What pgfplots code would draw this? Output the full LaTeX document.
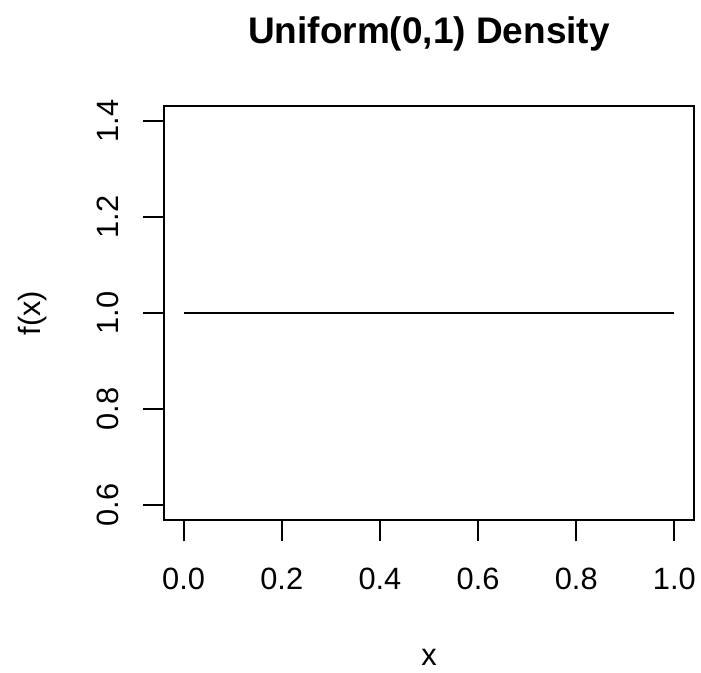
\documentclass[border=0pt]{standalone}
\usepackage{pgfplots}
\pgfplotsset{compat=1.18}
\usepackage{fontspec}
\setmainfont{Liberation Sans}
\begin{document}
\begin{tikzpicture}
  % page frame, 0.5pt per pixel of the 701x673 reference
  \useasboundingbox (0,0) rectangle (350.5pt,336.5pt);
  \begin{axis}[
      at={(82pt,76.35pt)}, anchor=south west,
      scale only axis,
      width=265pt, height=207.3pt,
      xmin=-0.04, xmax=1.04,
      ymin=0.568, ymax=1.432,
      xtick={0,0.2,0.4,0.6,0.8,1.0},
      ytick={0.6,0.8,1.0,1.2,1.4},
      xticklabels={0.0,0.2,0.4,0.6,0.8,1.0},
      yticklabels={0.6,0.8,1.0,1.2,1.4},
      tick align=outside,
      xtick pos=left, ytick pos=left,
      major tick length=10.5pt,
      axis line style={line width=0.9pt},
      every tick/.style={black, line width=0.9pt},
      tick label style={font=\fontsize{15.4}{18}\selectfont},
      xticklabel style={anchor=base, yshift=-24pt},
      % rotated frame: yshift moves the label to the left
      yticklabel style={rotate=90, anchor=base, yshift=12pt},
      title={\bfseries Uniform(0,1) Density},
      every axis title shift=0pt,
      title style={font=\fontsize{18.5}{22}\selectfont,
        at={(axis description cs:0.5,1.1512)}, anchor=base},
      xlabel={x}, ylabel={f(x)},
      label style={font=\fontsize{15.4}{18}\selectfont},
      xlabel style={at={(axis description cs:0.5,-0.3514)}, anchor=base},
      ylabel style={at={(axis description cs:-0.2330,0.5)}, anchor=base, rotate=0},
    ]
    \addplot[black, line width=0.9pt] coordinates {(0,1) (1,1)};
  \end{axis}
\end{tikzpicture}
\end{document}
